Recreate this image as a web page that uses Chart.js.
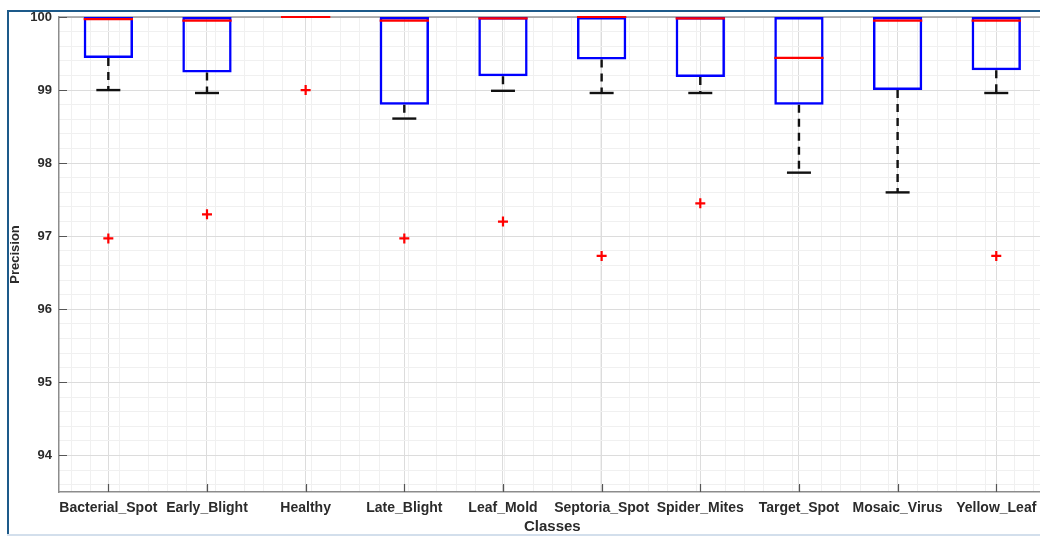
<!DOCTYPE html>
<html>
<head>
<meta charset="utf-8">
<script src="https://cdn.jsdelivr.net/npm/chart.js@4/dist/chart.umd.min.js"></script>
<style>
  html, body { margin: 0; padding: 0; background: #ffffff; overflow: hidden; width: 1040px; height: 536px; }
  #wrap { position: absolute; left: 0; top: 0; width: 1060px; height: 536px; }
  #c { position: absolute; left: 0; top: 0; }
  .frameL { position: absolute; left: 7px; top: 10px; width: 2px; height: 524px; background: #1d5a8a; }
  .frameT { position: absolute; left: 7px; top: 10px; width: 1040px; height: 2px; background: #1d5a8a; }
  .frameB { position: absolute; left: 7px; top: 534px; width: 1040px; height: 2px; background: #d3dfec; }
</style>
</head>
<body>
<div id="wrap">
  <canvas id="c" width="1060" height="536"></canvas>
  <div class="frameL"></div>
  <div class="frameT"></div>
  <div class="frameB"></div>
</div>
<script>
// ---- data ----
const categories = ['Bacterial_Spot', 'Early_Blight', 'Healthy', 'Late_Blight', 'Leaf_Mold',
                    'Septoria_Spot', 'Spider_Mites', 'Target_Spot', 'Mosaic_Virus', 'Yellow_Leaf'];
const q1 =         [99.44, 99.24, 100.00, 98.80, 99.19, 99.42, 99.18, 98.80, 99.00, 99.27];
const q3 =         [100.00, 100.00, 100.00, 100.00, 100.00, 100.00, 100.00, 100.00, 100.00, 100.00];
const medians =    [99.97, 99.95, 100.00, 99.95, 99.98, 100.00, 99.98, 99.44, 99.95, 99.95];
const whiskerLow = [99.00, 98.96, 100.00, 98.61, 98.99, 98.96, 98.96, 97.87, 97.60, 98.96];
const outliers =   [96.97, 97.30, 99.00, 96.97, 97.20, 96.73, 97.45, null, null, 96.73];
const yTicks = [94, 95, 96, 97, 98, 99, 100];
const yMin = 93.5, yMax = 100;

// ---- derived structures for the library ----
const boxData = categories.map((c, i) => [q1[i], q3[i]]);
const whiskerData = [];
categories.forEach((c, i) => {
  if (whiskerLow[i] < q1[i]) {
    whiskerData.push({x: c, y: q1[i]}, {x: c, y: whiskerLow[i]}, {x: c, y: null});
  }
});
const capData = categories.map((c, i) => (whiskerLow[i] < q1[i] ? whiskerLow[i] : null));

const FONT = "'Liberation Sans', Arial, sans-serif";
const TXT = '#2b2b2b';
const catWidth = (ctx) => ctx.chart.scales.x.width / categories.length;

const frameAndTicks = {
  id: 'frameAndTicks',
  beforeDatasetsDraw(chart) {
    const {ctx, chartArea: a, scales} = chart;
    ctx.save();
    ctx.strokeStyle = '#9a9a9a';
    ctx.lineWidth = 1.5;
    ctx.beginPath();
    ctx.moveTo(a.left, a.top); ctx.lineTo(a.right, a.top);
    ctx.stroke();
    // inward tick marks
    ctx.strokeStyle = '#555';
    ctx.lineWidth = 1.2;
    ctx.beginPath();
    yTicks.forEach(v => {
      const y = Math.round(scales.y.getPixelForValue(v)) + 0.5;
      ctx.moveTo(a.left, y); ctx.lineTo(a.left + 8, y);
    });
    categories.forEach((c, i) => {
      const x = Math.round(scales.x.getPixelForValue(i)) + 0.5;
      ctx.moveTo(x, a.bottom); ctx.lineTo(x, a.bottom - 8);
    });
    ctx.stroke();
    ctx.restore();
  }
};

new Chart(document.getElementById('c'), {
  type: 'bar',
  data: {
    labels: categories,
    datasets: [
      {
        type: 'scatter', label: 'Outliers', data: outliers, order: 0,
        pointStyle: 'cross', radius: 5, borderColor: '#ff0000', backgroundColor: '#ff0000',
        borderWidth: 2.2, showLine: false, clip: false
      },
      {
        type: 'line', label: 'Median', data: medians, order: 1,
        pointStyle: 'line', radius: (ctx) => catWidth(ctx) * 0.25, borderColor: '#ff0000',
        pointBorderWidth: 2.2, borderWidth: 2.2, showLine: false, clip: false
      },
      {
        type: 'line', label: 'Whisker caps', data: capData, order: 2,
        pointStyle: 'line', radius: 12, borderColor: '#111111',
        pointBorderWidth: 2.4, borderWidth: 2.4, showLine: false, clip: false
      },
      {
        type: 'line', label: 'Whiskers', data: whiskerData, order: 3,
        borderColor: '#111111', borderWidth: 2.4, borderDash: [8, 6],
        pointRadius: 0, spanGaps: false, clip: false
      },
      {
        type: 'bar', label: 'Boxes', data: boxData, order: 4,
        backgroundColor: 'rgba(0,0,0,0)', borderColor: '#0000ff', borderWidth: 2.5,
        borderSkipped: false, barPercentage: 0.5, categoryPercentage: 1.0, clip: false
      }
    ]
  },
  options: {
    responsive: false,
    animation: false,
    devicePixelRatio: 1,
    layout: { padding: { left: 0, right: 14, top: 17, bottom: 0 } },
    plugins: { legend: { display: false }, tooltip: { enabled: false } },
    scales: {
      x: {
        type: 'category', position: 'bottom', offset: true,
        grid: { offset: false, color: '#dcdcdc', lineWidth: 1, drawTicks: false },
        border: { color: '#8c8c8c', width: 1.5 },
        ticks: { color: TXT, font: { family: FONT, size: 14, weight: 'bold' }, padding: 8,
                 maxRotation: 0, autoSkip: false },
        title: { display: true, text: 'Classes', color: TXT,
                 font: { family: FONT, size: 15, weight: 'bold' }, padding: { top: 0, bottom: 0 } },
        afterFit: (s) => { s.height = 44; }
      },
      xMinor: {
        type: 'linear', position: 'bottom', min: -0.5, max: 9.5,
        grid: { color: '#f0f0f0', lineWidth: 1, drawTicks: false },
        border: { display: false },
        ticks: { display: false },
        afterBuildTicks: (axis) => {
          const t = [];
          for (let k = -2; k <= 47; k++) {
            if (k % 5 !== 0) t.push({ value: k / 5 });
          }
          axis.ticks = t;
        },
        afterFit: (s) => { s.height = 0; }
      },
      y: {
        type: 'linear', position: 'left', min: yMin, max: yMax,
        grid: { color: '#dcdcdc', lineWidth: 1, drawTicks: false },
        border: { color: '#8c8c8c', width: 1.5 },
        ticks: { color: TXT, font: { family: FONT, size: 13, weight: 'bold' }, padding: 7,
                 callback: (v) => String(v) },
        afterBuildTicks: (axis) => { axis.ticks = yTicks.map(v => ({ value: v })); },
        title: { display: true, text: 'Precision', color: TXT,
                 font: { family: FONT, size: 13, weight: 'bold' }, padding: { top: 8, bottom: 0 } },
        afterFit: (s) => { s.width = 59; }
      },
      yMinor: {
        type: 'linear', position: 'left', min: yMin, max: yMax,
        grid: { color: '#f0f0f0', lineWidth: 1, drawTicks: false },
        border: { display: false },
        ticks: { display: false },
        afterBuildTicks: (axis) => {
          const t = [];
          for (let k = 468; k < 500; k++) {
            if (k % 5 !== 0) t.push({ value: k / 5 });
          }
          axis.ticks = t;
        },
        afterFit: (s) => { s.width = 0; }
      }
    }
  },
  plugins: [frameAndTicks]
});
</script>
</body>
</html>
